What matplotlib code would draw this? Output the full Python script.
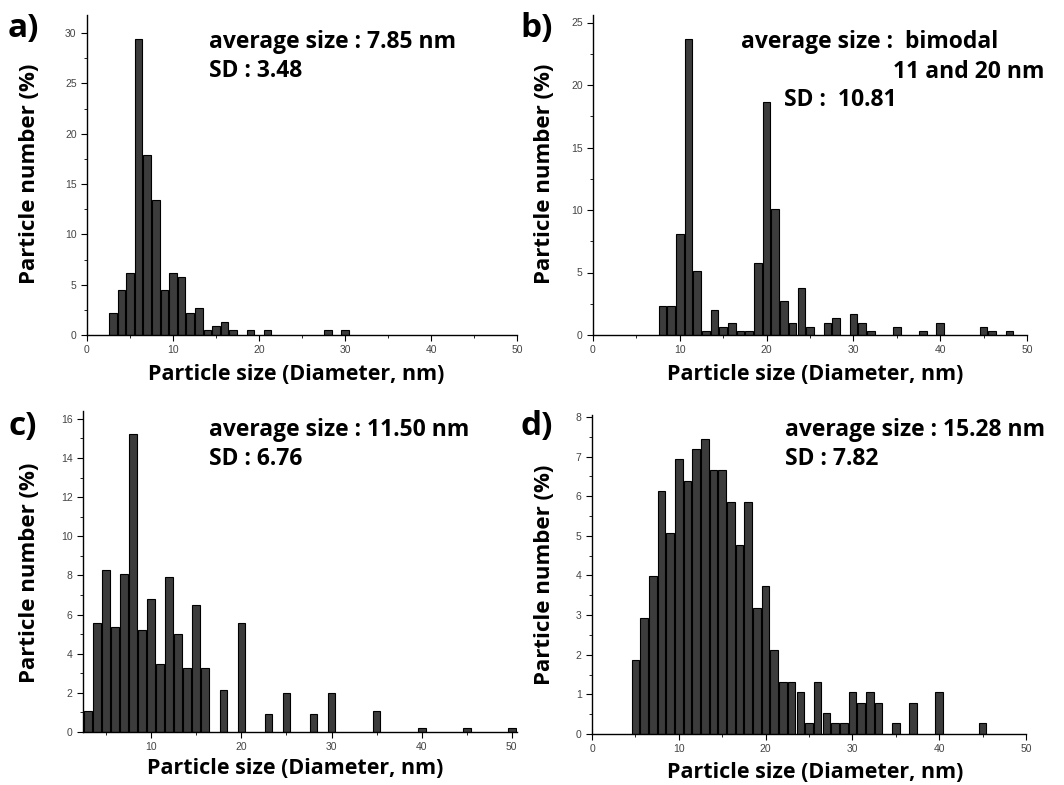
import matplotlib
matplotlib.use("Agg")
import matplotlib.pyplot as plt
from matplotlib.ticker import MultipleLocator

plt.rcParams["font.family"] = ["Open Sans", "DejaVu Sans"]

W, H = 1064, 785

# ---- data (particle size in nm, particle number in %) ----
size_a = [3, 4, 5, 6, 7, 8, 9, 10, 11, 12, 13, 14, 15, 16, 17, 19, 21, 28, 30]
pct_a = [2.2, 4.5, 6.2, 29.4, 17.9, 13.4, 4.5, 6.2, 5.8, 2.2, 2.7, 0.45, 0.85,
         1.3, 0.45, 0.45, 0.45, 0.45, 0.45]

size_b = [8, 9, 10, 11, 12, 13, 14, 15, 16, 17, 18, 19, 20, 21, 22, 23, 24, 25,
          27, 28, 30, 31, 32, 35, 38, 40, 45, 46, 48]
pct_b = [2.35, 2.35, 8.1, 23.7, 5.1, 0.32, 2.0, 0.67, 1.0, 0.32, 0.32, 5.8, 18.6,
         10.1, 2.7, 1.0, 3.75, 0.67, 1.0, 1.33, 1.65, 1.0, 0.32, 0.67, 0.3, 1.0,
         0.67, 0.32, 0.32]

size_c = [3, 4, 5, 6, 7, 8, 9, 10, 11, 12, 13, 14, 15, 16, 18, 20, 23, 25, 28,
          30, 35, 40, 45, 50]
pct_c = [1.08, 5.55, 8.27, 5.35, 8.07, 15.25, 5.22, 6.82, 3.45, 7.93, 5.02, 3.25,
         6.47, 3.25, 2.14, 5.56, 0.9, 2.0, 0.9, 2.0, 1.08, 0.2, 0.2, 0.2]

size_d = [5, 6, 7, 8, 9, 10, 11, 12, 13, 14, 15, 16, 17, 18, 19, 20, 21, 22, 23,
          24, 25, 26, 27, 28, 29, 30, 31, 32, 33, 35, 37, 40, 45]
pct_d = [1.86, 2.92, 3.99, 6.13, 5.07, 6.93, 6.38, 7.19, 7.45, 6.65, 6.65, 5.85,
         4.78, 5.85, 3.18, 3.73, 2.13, 1.31, 1.31, 1.06, 0.27, 1.31, 0.52, 0.27,
         0.27, 1.06, 0.79, 1.06, 0.79, 0.27, 0.79, 1.06, 0.27]

labels = ["a)", "b)", "c)", "d)"]
# text, x px, y px, horizontal alignment
notes = [
    [("average size : 7.85 nm", 209, 42, "left"), ("SD : 3.48", 209, 71, "left")],
    [("average size :  bimodal", 741, 42, "left"),
     ("11 and 20 nm", 1044, 72, "right"), ("SD :  10.81", 784, 100, "left")],
    [("average size : 11.50 nm", 209, 430, "left"), ("SD : 6.76", 209, 459, "left")],
    [("average size : 15.28 nm", 785, 430, "left"), ("SD : 7.82", 785, 459, "left")],
]

# axes boxes in pixels: left, top, right, bottom
boxes = [(87, 15, 517, 335), (593, 15, 1027, 335),
         (83, 411, 517, 732), (592, 415, 1026, 734)]
xlims = [(0, 50), (0, 50), (2.4, 50.6), (0, 50)]
ylims = [(0, 31.8), (0, 25.6), (0, 16.4), (0, 8.05)]
ymaj = [5, 5, 2, 1]
ymin = [2.5, 2.5, 1, 0.5]
label_pos = [(8, 29), (520, 29), (8, 427), (520, 427)]
ylab_pos = [(30, 174), (545, 174), (30, 573), (545, 575)]
xlab_pos = [(296, 374), (815, 374), (295, 769), (815, 772)]

data = [(size_a, pct_a), (size_b, pct_b), (size_c, pct_c), (size_d, pct_d)]

fig = plt.figure(figsize=(W / 100, H / 100), dpi=100)
fig.patch.set_facecolor("white")

for i, (xs, ys) in enumerate(data):
    l, t, r, b = boxes[i]
    ax = fig.add_axes([l / W, (H - b) / H, (r - l) / W, (b - t) / H])
    ax.bar(xs, ys, width=0.88, color="#3c3c3c", edgecolor="black", lw=0.8)
    ax.set_xlim(*xlims[i])
    ax.set_ylim(*ylims[i])
    ax.spines["top"].set_visible(False)
    ax.spines["right"].set_visible(False)
    for s in ("left", "bottom"):
        ax.spines[s].set_linewidth(1.0)
    ax.xaxis.set_major_locator(MultipleLocator(10))
    ax.xaxis.set_minor_locator(MultipleLocator(5))
    ax.yaxis.set_major_locator(MultipleLocator(ymaj[i]))
    ax.yaxis.set_minor_locator(MultipleLocator(ymin[i]))
    ax.tick_params(which="major", length=4, width=0.8, labelsize=7.5,
                   labelcolor="#444444", direction="out")
    ax.tick_params(which="minor", length=2.5, width=0.6, direction="out")
    for lab in ax.get_xticklabels() + ax.get_yticklabels():
        lab.set_family("Liberation Sans")

    lx, ly = label_pos[i]
    fig.text(lx / W, 1 - ly / H, labels[i], fontsize=24, fontweight="bold",
             ha="left", va="center")
    for s, tx, ty, ha in notes[i]:
        fig.text(tx / W, 1 - ty / H, s, fontsize=16.5, fontweight="bold",
                 ha=ha, va="center")
    yx, yy = ylab_pos[i]
    fig.text(yx / W, 1 - yy / H, "Particle number (%)", fontsize=16,
             fontweight="bold", rotation=90, ha="center", va="center")
    xx, xy = xlab_pos[i]
    fig.text(xx / W, 1 - xy / H, "Particle size (Diameter, nm)", fontsize=15.5,
             fontweight="bold", ha="center", va="center")

fig.savefig("out.png", dpi=100, facecolor="white")
